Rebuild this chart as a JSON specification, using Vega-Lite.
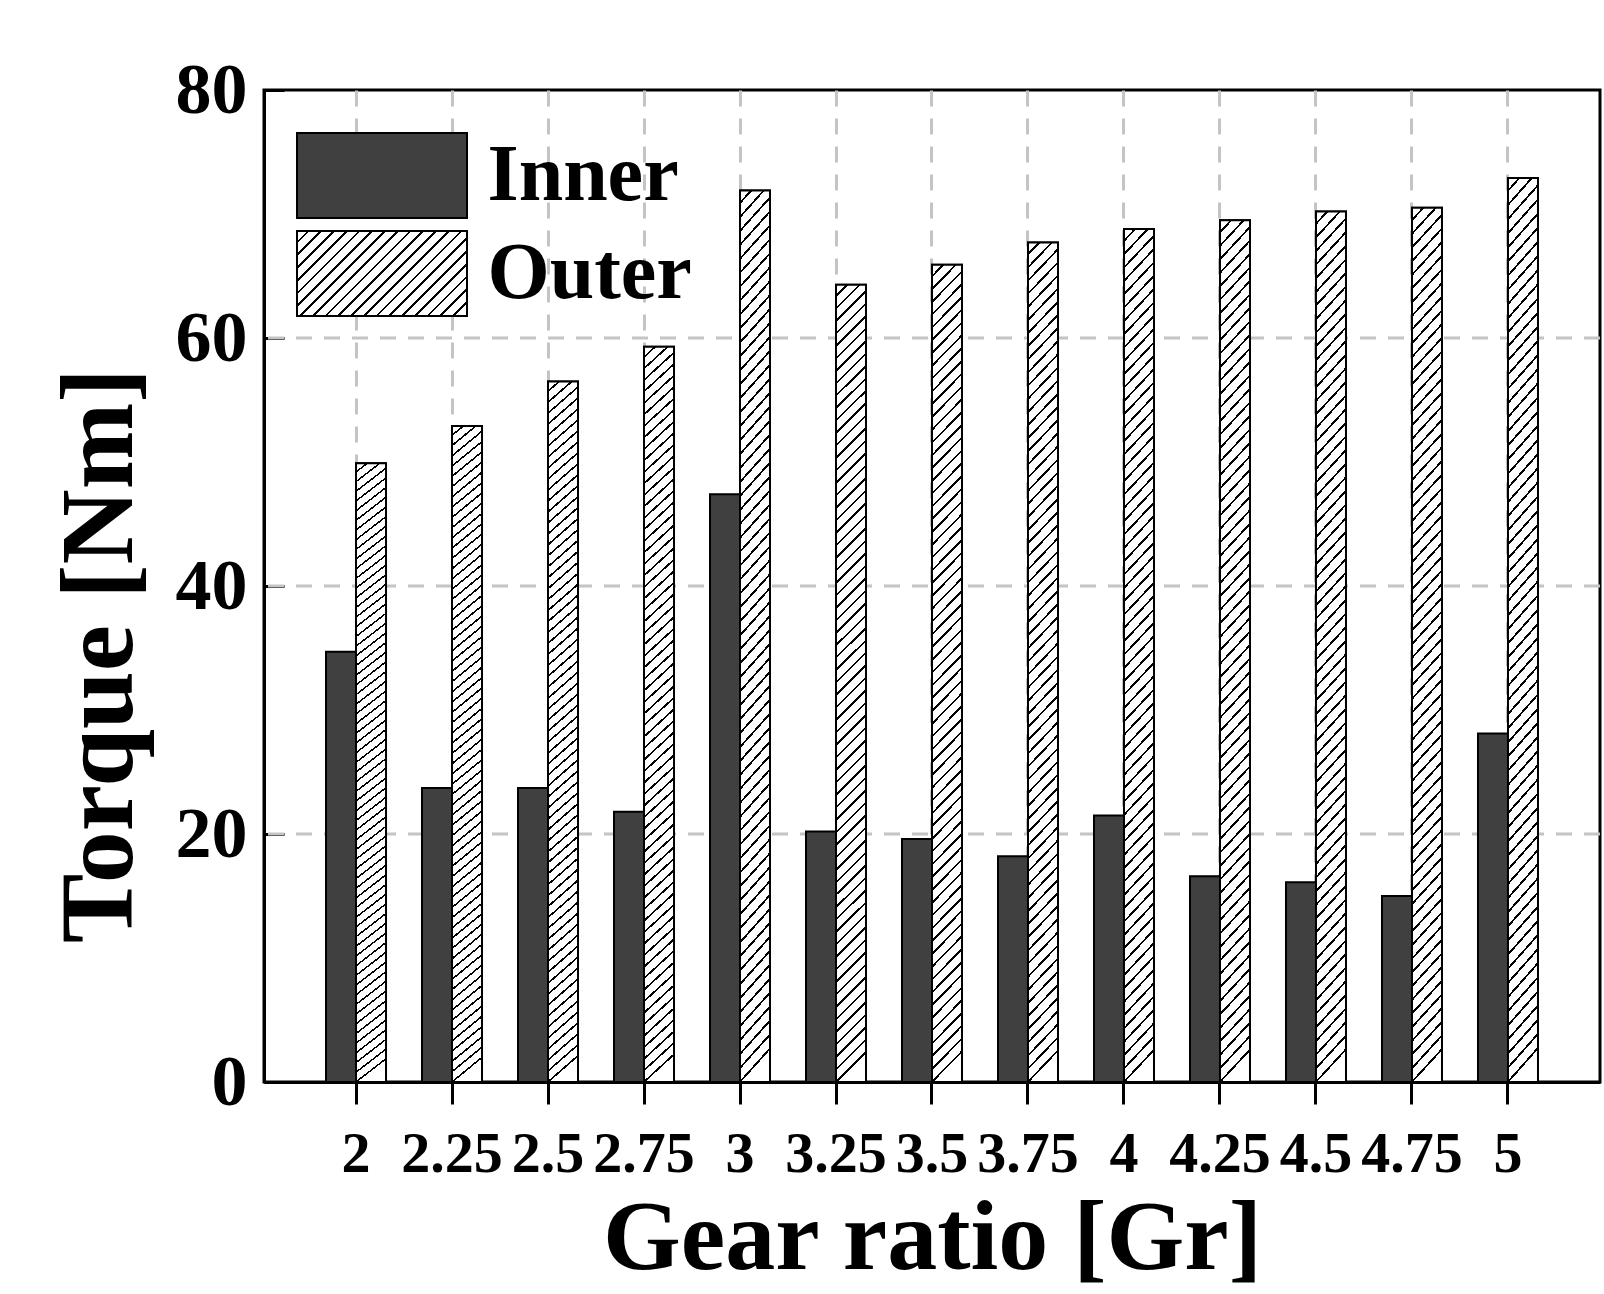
{
"$schema": "https://vega.github.io/schema/vega-lite/v6.json",
"width": 1336,
"height": 992,
"autosize": {"type": "none"},
"padding": {"left": 264, "top": 90, "right": 4, "bottom": 212},
"background": "white",
"config": {"view": {"stroke": "black", "strokeWidth": 3}, "font": "Liberation Serif"},
"data": {"values": [
{"ratio": "2", "series": "Inner", "torque": 34.7},
{"ratio": "2.25", "series": "Inner", "torque": 23.7},
{"ratio": "2.5", "series": "Inner", "torque": 23.7},
{"ratio": "2.75", "series": "Inner", "torque": 21.8},
{"ratio": "3", "series": "Inner", "torque": 47.4},
{"ratio": "3.25", "series": "Inner", "torque": 20.2},
{"ratio": "3.5", "series": "Inner", "torque": 19.6},
{"ratio": "3.75", "series": "Inner", "torque": 18.2},
{"ratio": "4", "series": "Inner", "torque": 21.5},
{"ratio": "4.25", "series": "Inner", "torque": 16.6},
{"ratio": "4.5", "series": "Inner", "torque": 16.1},
{"ratio": "4.75", "series": "Inner", "torque": 15.0},
{"ratio": "5", "series": "Inner", "torque": 28.1},
{"ratio": "2", "series": "Outer", "torque": 49.9},
{"ratio": "2.25", "series": "Outer", "torque": 52.9},
{"ratio": "2.5", "series": "Outer", "torque": 56.5},
{"ratio": "2.75", "series": "Outer", "torque": 59.3},
{"ratio": "3", "series": "Outer", "torque": 71.9},
{"ratio": "3.25", "series": "Outer", "torque": 64.3},
{"ratio": "3.5", "series": "Outer", "torque": 65.9},
{"ratio": "3.75", "series": "Outer", "torque": 67.7},
{"ratio": "4", "series": "Outer", "torque": 68.8},
{"ratio": "4.25", "series": "Outer", "torque": 69.5},
{"ratio": "4.5", "series": "Outer", "torque": 70.2},
{"ratio": "4.75", "series": "Outer", "torque": 70.5},
{"ratio": "5", "series": "Outer", "torque": 72.9}
]},
"layer": [
{"data": {"values": [{"g": 20}, {"g": 40}, {"g": 60}]},
 "mark": {"type": "rule", "color": "#c4c4c4", "strokeWidth": 3, "strokeDash": [16, 12]},
 "encoding": {"y": {"field": "g", "type": "quantitative",
 "scale": {"domain": [0, 80], "nice": false},
 "axis": {"title": "Torque [Nm]", "values": [0, 20, 40, 60, 80],
  "labelFont": "Liberation Serif", "labelFontWeight": "bold", "labelFontSize": 72, "labelColor": "black", "labelPadding": 37,
  "tickSize": -20, "tickWidth": 3, "tickColor": "black", "domainColor": "black", "domainWidth": 3,
  "grid": false,
  "titleFont": "Liberation Serif", "titleFontWeight": "bold", "titleFontSize": 104, "titleColor": "black",
  "titleAngle": -90, "titleX": -133, "titleY": 565, "titleAlign": "center", "titleBaseline": "alphabetic"}}}},
{"encoding": {
"x": {"field": "ratio", "type": "nominal",
 "scale": {"type": "band", "domain": ["2","2.25","2.5","2.75","3","3.25","3.5","3.75","4","4.25","4.5","4.75","5"], "paddingInner": 0.375, "paddingOuter": 0.646},
 "axis": {"title": "Gear ratio [Gr]", "labelAngle": 0, "bandPosition": 0.5,
  "labelFont": "Liberation Serif", "labelFontWeight": "bold", "labelFontSize": 58, "labelColor": "black", "labelPadding": 21, "labelOverlap": false,
  "tickSize": 22, "tickWidth": 3, "tickColor": "black", "domainColor": "black", "domainWidth": 3,
  "grid": true, "gridColor": "#c4c4c4", "gridDash": [16, 12], "gridWidth": 3,
  "titleFont": "Liberation Serif", "titleFontWeight": "bold", "titleFontSize": 100, "titleColor": "black",
  "titleX": 668, "titleY": 186, "titleBaseline": "alphabetic", "titleAlign": "center"}},
"xOffset": {"field": "series", "type": "nominal", "scale": {"domain": ["Inner", "Outer"], "paddingInner": 0, "paddingOuter": 0}},
"y": {"field": "torque", "type": "quantitative",
 "scale": {"domain": [0, 80], "nice": false},
 "axis": {"title": "Torque [Nm]", "values": [0, 20, 40, 60, 80],
  "labelFont": "Liberation Serif", "labelFontWeight": "bold", "labelFontSize": 72, "labelColor": "black", "labelPadding": 37,
  "tickSize": -20, "tickWidth": 3, "tickColor": "black", "domainColor": "black", "domainWidth": 3,
  "grid": false,
  "titleFont": "Liberation Serif", "titleFontWeight": "bold", "titleFontSize": 104, "titleColor": "black",
  "titleAngle": -90, "titleX": -133, "titleY": 565, "titleAlign": "center", "titleBaseline": "alphabetic"}}
 },
 "layer": [
 {"mark": {"type": "bar", "stroke": "black", "strokeWidth": 2, "fillOpacity": 1},
  "encoding": {"fill": {"field": "series", "type": "nominal",
   "scale": {"domain": ["Inner", "Outer"], "range": ["#404040", {"expr": "{gradient:'linear',x1:0,y1:0,x2:1.2,y2:0.6,stops:[{offset:0,color:'#fff'},{offset:0.04,color:'#fff'},{offset:0.04,color:'#000'},{offset:0.05,color:'#000'},{offset:0.05,color:'#fff'},{offset:0.09,color:'#fff'},{offset:0.09,color:'#000'},{offset:0.1,color:'#000'},{offset:0.1,color:'#fff'},{offset:0.14,color:'#fff'},{offset:0.14,color:'#000'},{offset:0.15,color:'#000'},{offset:0.15,color:'#fff'},{offset:0.19,color:'#fff'},{offset:0.19,color:'#000'},{offset:0.2,color:'#000'},{offset:0.2,color:'#fff'},{offset:0.24,color:'#fff'},{offset:0.24,color:'#000'},{offset:0.25,color:'#000'},{offset:0.25,color:'#fff'},{offset:0.29,color:'#fff'},{offset:0.29,color:'#000'},{offset:0.3,color:'#000'},{offset:0.3,color:'#fff'},{offset:0.34,color:'#fff'},{offset:0.34,color:'#000'},{offset:0.35,color:'#000'},{offset:0.35,color:'#fff'},{offset:0.39,color:'#fff'},{offset:0.39,color:'#000'},{offset:0.4,color:'#000'},{offset:0.4,color:'#fff'},{offset:0.44,color:'#fff'},{offset:0.44,color:'#000'},{offset:0.45,color:'#000'},{offset:0.45,color:'#fff'},{offset:0.49,color:'#fff'},{offset:0.49,color:'#000'},{offset:0.5,color:'#000'},{offset:0.5,color:'#fff'},{offset:0.54,color:'#fff'},{offset:0.54,color:'#000'},{offset:0.55,color:'#000'},{offset:0.55,color:'#fff'},{offset:0.59,color:'#fff'},{offset:0.59,color:'#000'},{offset:0.6,color:'#000'},{offset:0.6,color:'#fff'},{offset:0.64,color:'#fff'},{offset:0.64,color:'#000'},{offset:0.65,color:'#000'},{offset:0.65,color:'#fff'},{offset:0.69,color:'#fff'},{offset:0.69,color:'#000'},{offset:0.7,color:'#000'},{offset:0.7,color:'#fff'},{offset:0.74,color:'#fff'},{offset:0.74,color:'#000'},{offset:0.75,color:'#000'},{offset:0.75,color:'#fff'},{offset:0.79,color:'#fff'},{offset:0.79,color:'#000'},{offset:0.8,color:'#000'},{offset:0.8,color:'#fff'},{offset:0.84,color:'#fff'},{offset:0.84,color:'#000'},{offset:0.85,color:'#000'},{offset:0.85,color:'#fff'},{offset:0.89,color:'#fff'},{offset:0.89,color:'#000'},{offset:0.9,color:'#000'},{offset:0.9,color:'#fff'},{offset:0.94,color:'#fff'},{offset:0.94,color:'#000'},{offset:0.95,color:'#000'},{offset:0.95,color:'#fff'},{offset:1,color:'#fff'}]}"}]},
   "legend": {"title": null, "orient": "none", "legendX": 74.5, "legendY": 42,
    "symbolType": "M-2,-1H2V1H-2Z", "symbolSize": 7225, "symbolStrokeColor": "black", "symbolStrokeWidth": 2, "symbolOpacity": 1,
    "labelFont": "Liberation Serif", "labelFontWeight": "bold", "labelFontSize": 80, "labelColor": "black",
    "labelOffset": 62, "labelLimit": 0, "rowPadding": 5, "padding": 0}}}},
 {"transform": [{"filter": "datum.series === 'Outer'"}],
  "mark": {"type": "bar", "stroke": "black", "strokeWidth": 2,
   "fill": {"gradient": "linear", "x1": 0, "y1": 0, "x2": 0.0375, "y2": 1, "stops": [
{"offset":0,"color":"#fff"},{"offset":0.0125,"color":"#fff"},{"offset":0.0125,"color":"#000"},{"offset":0.01563,"color":"#000"},
{"offset":0.01563,"color":"#fff"},{"offset":0.02813,"color":"#fff"},{"offset":0.02813,"color":"#000"},{"offset":0.03125,"color":"#000"},
{"offset":0.03125,"color":"#fff"},{"offset":0.04375,"color":"#fff"},{"offset":0.04375,"color":"#000"},{"offset":0.04688,"color":"#000"},
{"offset":0.04688,"color":"#fff"},{"offset":0.05938,"color":"#fff"},{"offset":0.05938,"color":"#000"},{"offset":0.0625,"color":"#000"},
{"offset":0.0625,"color":"#fff"},{"offset":0.075,"color":"#fff"},{"offset":0.075,"color":"#000"},{"offset":0.07813,"color":"#000"},
{"offset":0.07813,"color":"#fff"},{"offset":0.09063,"color":"#fff"},{"offset":0.09063,"color":"#000"},{"offset":0.09375,"color":"#000"},
{"offset":0.09375,"color":"#fff"},{"offset":0.10625,"color":"#fff"},{"offset":0.10625,"color":"#000"},{"offset":0.10938,"color":"#000"},
{"offset":0.10938,"color":"#fff"},{"offset":0.12188,"color":"#fff"},{"offset":0.12188,"color":"#000"},{"offset":0.125,"color":"#000"},
{"offset":0.125,"color":"#fff"},{"offset":0.1375,"color":"#fff"},{"offset":0.1375,"color":"#000"},{"offset":0.14063,"color":"#000"},
{"offset":0.14063,"color":"#fff"},{"offset":0.15313,"color":"#fff"},{"offset":0.15313,"color":"#000"},{"offset":0.15625,"color":"#000"},
{"offset":0.15625,"color":"#fff"},{"offset":0.16875,"color":"#fff"},{"offset":0.16875,"color":"#000"},{"offset":0.17188,"color":"#000"},
{"offset":0.17188,"color":"#fff"},{"offset":0.18438,"color":"#fff"},{"offset":0.18438,"color":"#000"},{"offset":0.1875,"color":"#000"},
{"offset":0.1875,"color":"#fff"},{"offset":0.2,"color":"#fff"},{"offset":0.2,"color":"#000"},{"offset":0.20313,"color":"#000"},
{"offset":0.20313,"color":"#fff"},{"offset":0.21563,"color":"#fff"},{"offset":0.21563,"color":"#000"},{"offset":0.21875,"color":"#000"},
{"offset":0.21875,"color":"#fff"},{"offset":0.23125,"color":"#fff"},{"offset":0.23125,"color":"#000"},{"offset":0.23438,"color":"#000"},
{"offset":0.23438,"color":"#fff"},{"offset":0.24688,"color":"#fff"},{"offset":0.24688,"color":"#000"},{"offset":0.25,"color":"#000"},
{"offset":0.25,"color":"#fff"},{"offset":0.2625,"color":"#fff"},{"offset":0.2625,"color":"#000"},{"offset":0.26563,"color":"#000"},
{"offset":0.26563,"color":"#fff"},{"offset":0.27813,"color":"#fff"},{"offset":0.27813,"color":"#000"},{"offset":0.28125,"color":"#000"},
{"offset":0.28125,"color":"#fff"},{"offset":0.29375,"color":"#fff"},{"offset":0.29375,"color":"#000"},{"offset":0.29688,"color":"#000"},
{"offset":0.29688,"color":"#fff"},{"offset":0.30938,"color":"#fff"},{"offset":0.30938,"color":"#000"},{"offset":0.3125,"color":"#000"},
{"offset":0.3125,"color":"#fff"},{"offset":0.325,"color":"#fff"},{"offset":0.325,"color":"#000"},{"offset":0.32813,"color":"#000"},
{"offset":0.32813,"color":"#fff"},{"offset":0.34063,"color":"#fff"},{"offset":0.34063,"color":"#000"},{"offset":0.34375,"color":"#000"},
{"offset":0.34375,"color":"#fff"},{"offset":0.35625,"color":"#fff"},{"offset":0.35625,"color":"#000"},{"offset":0.35938,"color":"#000"},
{"offset":0.35938,"color":"#fff"},{"offset":0.37188,"color":"#fff"},{"offset":0.37188,"color":"#000"},{"offset":0.375,"color":"#000"},
{"offset":0.375,"color":"#fff"},{"offset":0.3875,"color":"#fff"},{"offset":0.3875,"color":"#000"},{"offset":0.39063,"color":"#000"},
{"offset":0.39063,"color":"#fff"},{"offset":0.40313,"color":"#fff"},{"offset":0.40313,"color":"#000"},{"offset":0.40625,"color":"#000"},
{"offset":0.40625,"color":"#fff"},{"offset":0.41875,"color":"#fff"},{"offset":0.41875,"color":"#000"},{"offset":0.42188,"color":"#000"},
{"offset":0.42188,"color":"#fff"},{"offset":0.43438,"color":"#fff"},{"offset":0.43438,"color":"#000"},{"offset":0.4375,"color":"#000"},
{"offset":0.4375,"color":"#fff"},{"offset":0.45,"color":"#fff"},{"offset":0.45,"color":"#000"},{"offset":0.45313,"color":"#000"},
{"offset":0.45313,"color":"#fff"},{"offset":0.46563,"color":"#fff"},{"offset":0.46563,"color":"#000"},{"offset":0.46875,"color":"#000"},
{"offset":0.46875,"color":"#fff"},{"offset":0.48125,"color":"#fff"},{"offset":0.48125,"color":"#000"},{"offset":0.48438,"color":"#000"},
{"offset":0.48438,"color":"#fff"},{"offset":0.49688,"color":"#fff"},{"offset":0.49688,"color":"#000"},{"offset":0.5,"color":"#000"},
{"offset":0.5,"color":"#fff"},{"offset":0.5125,"color":"#fff"},{"offset":0.5125,"color":"#000"},{"offset":0.51563,"color":"#000"},
{"offset":0.51563,"color":"#fff"},{"offset":0.52813,"color":"#fff"},{"offset":0.52813,"color":"#000"},{"offset":0.53125,"color":"#000"},
{"offset":0.53125,"color":"#fff"},{"offset":0.54375,"color":"#fff"},{"offset":0.54375,"color":"#000"},{"offset":0.54688,"color":"#000"},
{"offset":0.54688,"color":"#fff"},{"offset":0.55938,"color":"#fff"},{"offset":0.55938,"color":"#000"},{"offset":0.5625,"color":"#000"},
{"offset":0.5625,"color":"#fff"},{"offset":0.575,"color":"#fff"},{"offset":0.575,"color":"#000"},{"offset":0.57813,"color":"#000"},
{"offset":0.57813,"color":"#fff"},{"offset":0.59063,"color":"#fff"},{"offset":0.59063,"color":"#000"},{"offset":0.59375,"color":"#000"},
{"offset":0.59375,"color":"#fff"},{"offset":0.60625,"color":"#fff"},{"offset":0.60625,"color":"#000"},{"offset":0.60938,"color":"#000"},
{"offset":0.60938,"color":"#fff"},{"offset":0.62188,"color":"#fff"},{"offset":0.62188,"color":"#000"},{"offset":0.625,"color":"#000"},
{"offset":0.625,"color":"#fff"},{"offset":0.6375,"color":"#fff"},{"offset":0.6375,"color":"#000"},{"offset":0.64063,"color":"#000"},
{"offset":0.64063,"color":"#fff"},{"offset":0.65313,"color":"#fff"},{"offset":0.65313,"color":"#000"},{"offset":0.65625,"color":"#000"},
{"offset":0.65625,"color":"#fff"},{"offset":0.66875,"color":"#fff"},{"offset":0.66875,"color":"#000"},{"offset":0.67188,"color":"#000"},
{"offset":0.67188,"color":"#fff"},{"offset":0.68438,"color":"#fff"},{"offset":0.68438,"color":"#000"},{"offset":0.6875,"color":"#000"},
{"offset":0.6875,"color":"#fff"},{"offset":0.7,"color":"#fff"},{"offset":0.7,"color":"#000"},{"offset":0.70313,"color":"#000"},
{"offset":0.70313,"color":"#fff"},{"offset":0.71563,"color":"#fff"},{"offset":0.71563,"color":"#000"},{"offset":0.71875,"color":"#000"},
{"offset":0.71875,"color":"#fff"},{"offset":0.73125,"color":"#fff"},{"offset":0.73125,"color":"#000"},{"offset":0.73438,"color":"#000"},
{"offset":0.73438,"color":"#fff"},{"offset":0.74688,"color":"#fff"},{"offset":0.74688,"color":"#000"},{"offset":0.75,"color":"#000"},
{"offset":0.75,"color":"#fff"},{"offset":0.7625,"color":"#fff"},{"offset":0.7625,"color":"#000"},{"offset":0.76563,"color":"#000"},
{"offset":0.76563,"color":"#fff"},{"offset":0.77813,"color":"#fff"},{"offset":0.77813,"color":"#000"},{"offset":0.78125,"color":"#000"},
{"offset":0.78125,"color":"#fff"},{"offset":0.79375,"color":"#fff"},{"offset":0.79375,"color":"#000"},{"offset":0.79688,"color":"#000"},
{"offset":0.79688,"color":"#fff"},{"offset":0.80938,"color":"#fff"},{"offset":0.80938,"color":"#000"},{"offset":0.8125,"color":"#000"},
{"offset":0.8125,"color":"#fff"},{"offset":0.825,"color":"#fff"},{"offset":0.825,"color":"#000"},{"offset":0.82813,"color":"#000"},
{"offset":0.82813,"color":"#fff"},{"offset":0.84063,"color":"#fff"},{"offset":0.84063,"color":"#000"},{"offset":0.84375,"color":"#000"},
{"offset":0.84375,"color":"#fff"},{"offset":0.85625,"color":"#fff"},{"offset":0.85625,"color":"#000"},{"offset":0.85938,"color":"#000"},
{"offset":0.85938,"color":"#fff"},{"offset":0.87188,"color":"#fff"},{"offset":0.87188,"color":"#000"},{"offset":0.875,"color":"#000"},
{"offset":0.875,"color":"#fff"},{"offset":0.8875,"color":"#fff"},{"offset":0.8875,"color":"#000"},{"offset":0.89063,"color":"#000"},
{"offset":0.89063,"color":"#fff"},{"offset":0.90313,"color":"#fff"},{"offset":0.90313,"color":"#000"},{"offset":0.90625,"color":"#000"},
{"offset":0.90625,"color":"#fff"},{"offset":0.91875,"color":"#fff"},{"offset":0.91875,"color":"#000"},{"offset":0.92188,"color":"#000"},
{"offset":0.92188,"color":"#fff"},{"offset":0.93438,"color":"#fff"},{"offset":0.93438,"color":"#000"},{"offset":0.9375,"color":"#000"},
{"offset":0.9375,"color":"#fff"},{"offset":0.95,"color":"#fff"},{"offset":0.95,"color":"#000"},{"offset":0.95313,"color":"#000"},
{"offset":0.95313,"color":"#fff"},{"offset":0.96563,"color":"#fff"},{"offset":0.96563,"color":"#000"},{"offset":0.96875,"color":"#000"},
{"offset":0.96875,"color":"#fff"},{"offset":0.98125,"color":"#fff"},{"offset":0.98125,"color":"#000"},{"offset":0.98438,"color":"#000"},
{"offset":0.98438,"color":"#fff"},{"offset":0.99688,"color":"#fff"},{"offset":0.99688,"color":"#000"},{"offset":1,"color":"#000"},
{"offset":1,"color":"#fff"}
   ]}}}
 ]}
]
}
